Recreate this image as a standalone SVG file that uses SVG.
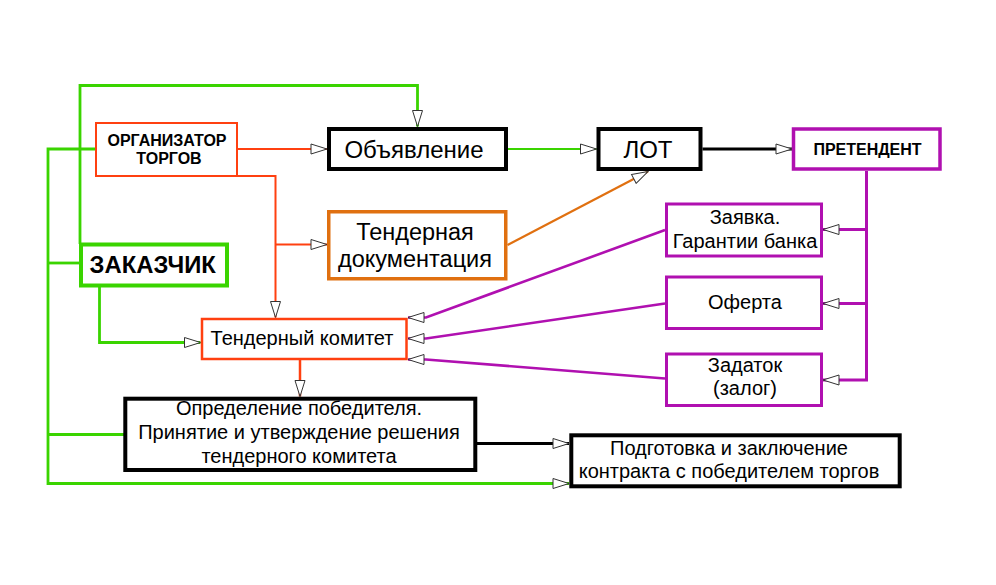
<svg xmlns="http://www.w3.org/2000/svg" width="996" height="585" viewBox="0 0 996 585">
<defs>
<style>
text{font-family:"Liberation Sans",Arial,sans-serif;fill:#000;text-anchor:middle}
.b{font-weight:bold}
.box{fill:#fff}
.g{stroke:#3ad400;fill:none;stroke-width:2.8}
.r{stroke:#ff4010;fill:none;stroke-width:2}
.o{stroke:#e07010;fill:none;stroke-width:2.2}
.p{stroke:#b010b0;fill:none;stroke-width:3}
.k{stroke:#000;fill:none;stroke-width:2.8}
</style>
<marker id="a" markerUnits="userSpaceOnUse" markerWidth="18" markerHeight="12" viewBox="0 0 18 12" refX="17" refY="6" orient="auto">
<path d="M1,1 L17,6 L1,11 Z" fill="#fff" stroke="#333" stroke-width="1"/>
</marker>
</defs>
<rect width="996" height="585" fill="#fff"/>
<g id="connectors">
<path class="g" d="M80,244 V85.5 H417.5 V126.5" marker-end="url(#a)"/>
<path class="g" d="M96,149 H48 V483.5 H569" marker-end="url(#a)"/>
<path class="g" d="M48,263 H80"/>
<path class="g" d="M48,434.5 H124"/>
<path class="g" d="M99.5,287 V342.5 H200.5" marker-end="url(#a)"/>
<path class="r" d="M237,149 H327" marker-end="url(#a)"/>
<path class="r" d="M237,176 H275.5 V317.5" marker-end="url(#a)"/>
<path class="r" d="M275.5,244.5 H327" marker-end="url(#a)"/>
<path class="r" style="stroke-width:2.5" d="M300,360 V396.5" marker-end="url(#a)"/>
<path class="g" style="stroke-width:2.2" d="M508,149 H596.5" marker-end="url(#a)"/>
<path class="k" d="M702.5,149 H792" marker-end="url(#a)"/>
<path class="o" d="M507.5,245 L648,171.5" marker-end="url(#a)"/>
<path class="p" d="M866.5,171 V380 H823" marker-end="url(#a)"/>
<path class="p" d="M866.5,229.5 H823" marker-end="url(#a)"/>
<path class="p" d="M866.5,303.5 H823" marker-end="url(#a)"/>
<path class="p" style="stroke-width:2.6" d="M665,230 L426,317.5 H408" marker-end="url(#a)"/>
<path class="p" style="stroke-width:2.6" d="M665,303.5 L426,338.5 H408" marker-end="url(#a)"/>
<path class="p" style="stroke-width:2.6" d="M665,378.5 L426,359.5 H408" marker-end="url(#a)"/>
<path class="k" d="M477,443.5 H569" marker-end="url(#a)"/>
</g>
<g id="organizer">
<rect class="box" x="96" y="123" width="141" height="53" stroke="#ff4010" stroke-width="2"/>
<text class="b" x="167" y="145.5" font-size="16">ОРГАНИЗАТОР</text>
<text class="b" x="169" y="164" font-size="16">ТОРГОВ</text>
</g>
<g id="announcement">
<rect class="box" x="329" y="129" width="177" height="40" stroke="#000" stroke-width="4"/>
<text x="414" y="157.5" font-size="24">Объявление</text>
</g>
<g id="lot">
<rect class="box" x="598.5" y="129" width="102" height="40" stroke="#000" stroke-width="4"/>
<text x="648" y="157.7" font-size="24">ЛОТ</text>
</g>
<g id="applicant">
<rect class="box" x="793.5" y="129" width="146.5" height="40" stroke="#b010b0" stroke-width="3.5"/>
<text class="b" x="867.5" y="154.5" font-size="16">ПРЕТЕНДЕНТ</text>
</g>
<g id="customer">
<rect class="box" x="81" y="244.5" width="146" height="41" stroke="#3ad400" stroke-width="4"/>
<text class="b" x="152.7" y="273" font-size="23.8">ЗАКАЗЧИК</text>
</g>
<g id="tender-docs">
<rect class="box" x="328.75" y="211.75" width="177" height="67" stroke="#e07010" stroke-width="3.5"/>
<text x="415" y="240" font-size="23.5">Тендерная</text>
<text x="415" y="267" font-size="23.5">документация</text>
</g>
<g id="application">
<rect class="box" x="666.5" y="204" width="155" height="52" stroke="#b010b0" stroke-width="3"/>
<text x="745" y="224" font-size="20">Заявка.</text>
<text x="745" y="247.7" font-size="20">Гарантии банка</text>
</g>
<g id="offer">
<rect class="box" x="666.5" y="277" width="155" height="51.5" stroke="#b010b0" stroke-width="3"/>
<text x="745" y="309" font-size="20">Оферта</text>
</g>
<g id="deposit">
<rect class="box" x="666.5" y="354" width="155" height="51.5" stroke="#b010b0" stroke-width="3"/>
<text x="745" y="372" font-size="20">Задаток</text>
<text x="745" y="395" font-size="20">(залог)</text>
</g>
<g id="committee">
<rect class="box" x="202" y="319" width="204.5" height="40" stroke="#ff4010" stroke-width="2.5"/>
<text x="302" y="345" font-size="20">Тендерный комитет</text>
</g>
<g id="decision">
<rect class="box" x="125.3" y="398.7" width="350" height="71.3" stroke="#000" stroke-width="4"/>
<text x="299" y="415" font-size="20">Определение победителя.</text>
<text x="299" y="439" font-size="20">Принятие и утверждение решения</text>
<text x="299" y="462.5" font-size="20">тендерного комитета</text>
</g>
<g id="contract">
<rect class="box" x="571.3" y="435.3" width="328.4" height="51" stroke="#000" stroke-width="4"/>
<text x="729" y="455" font-size="20">Подготовка и заключение</text>
<text x="729" y="478.3" font-size="20">контракта с победителем торгов</text>
</g>
</svg>
